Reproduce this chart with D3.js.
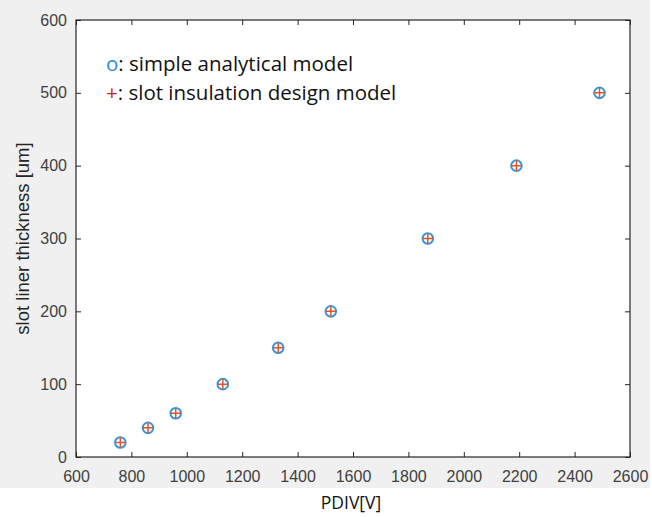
<!DOCTYPE html>
<html>
<head>
<meta charset="utf-8">
<script src="https://cdn.jsdelivr.net/npm/d3@7"></script>
<style>
  body { margin: 0; background: #fff; }
  svg { display: block; }
</style>
</head>
<body>
<script>
var width = 652;
var height = 517;

// data
var pdiv = [760, 860, 960, 1130, 1330, 1520, 1870, 2190, 2490];
var thickness = [20, 40, 60, 100, 150, 200, 300, 400, 500];
var xTicks = [600, 800, 1000, 1200, 1400, 1600, 1800, 2000, 2200, 2400, 2600];
var yTicks = [0, 100, 200, 300, 400, 500, 600];
var legendLines = [
  {sym: "o", symColor: "#2a8bd6", text: ": simple analytical model"},
  {sym: "+", symColor: "#d42020", text: ": slot insulation design model"}
];

var margin = {left: 76, top: 20, right: 630, bottom: 457};

var svg = d3.select("body").append("svg")
  .attr("width", width)
  .attr("height", height);

// matlab figure grey
svg.append("rect")
  .attr("x", 0).attr("y", 0)
  .attr("width", 650).attr("height", 488)
  .attr("fill", "#f0f0f0");

var x = d3.scaleLinear().domain([600, 2600]).range([margin.left, margin.right]);
var y = d3.scaleLinear().domain([0, 600]).range([margin.bottom, margin.top]);

svg.append("rect")
  .attr("x", margin.left).attr("y", margin.top)
  .attr("width", margin.right - margin.left)
  .attr("height", margin.bottom - margin.top)
  .attr("fill", "#fff");

var fmt = d3.format("d");

function styleAxis(g) {
  g.select(".domain").remove();
  g.selectAll(".tick line").attr("stroke", "#262626").attr("stroke-width", 1);
  g.selectAll(".tick text")
    .attr("fill", "#404040")
    .style("font-family", "'Liberation Sans', Arial, sans-serif")
    .style("font-size", "16px");
}

svg.append("g")
  .attr("transform", "translate(0," + margin.bottom + ")")
  .call(d3.axisBottom(x).tickValues(xTicks).tickFormat(fmt).tickSizeInner(-5).tickSizeOuter(0).tickPadding(14))
  .call(styleAxis);

svg.append("g")
  .attr("transform", "translate(" + margin.left + ",0)")
  .call(d3.axisLeft(y).tickValues(yTicks).tickFormat(fmt).tickSizeInner(-5).tickSizeOuter(0).tickPadding(9))
  .call(styleAxis);

svg.append("g")
  .attr("transform", "translate(0," + margin.top + ")")
  .call(d3.axisTop(x).tickValues(xTicks).tickSizeInner(-5).tickSizeOuter(0).tickFormat(""))
  .call(styleAxis);

svg.append("g")
  .attr("transform", "translate(" + margin.right + ",0)")
  .call(d3.axisRight(y).tickValues(yTicks).tickSizeInner(-5).tickSizeOuter(0).tickFormat(""))
  .call(styleAxis);

// box
svg.append("rect")
  .attr("x", margin.left).attr("y", margin.top)
  .attr("width", margin.right - margin.left)
  .attr("height", margin.bottom - margin.top)
  .attr("fill", "none")
  .attr("stroke", "#262626")
  .attr("stroke-width", 1.2);

// axis titles
svg.append("text")
  .attr("transform", "translate(29," + ((margin.top + margin.bottom) / 2) + ") rotate(-90)")
  .attr("text-anchor", "middle")
  .attr("fill", "#262626")
  .style("font-family", "'Liberation Sans', Arial, sans-serif")
  .style("font-size", "18.5px")
  .text("slot liner thickness [um]");

svg.append("text")
  .attr("x", 351).attr("y", 509)
  .attr("text-anchor", "middle")
  .attr("fill", "#111")
  .style("font-family", "'Open Sans', sans-serif")
  .style("font-size", "17.5px")
  .text("PDIV[V]");

// markers
var pts = pdiv.map(function(d, i){ return {x: d, y: thickness[i]}; });

svg.append("g").selectAll("circle")
  .data(pts)
  .enter()
  .append("circle")
  .attr("cx", function(d){ return x(d.x); })
  .attr("cy", function(d){ return y(d.y); })
  .attr("r", 5.3)
  .attr("fill", "none")
  .attr("stroke", "#3896dc")
  .attr("stroke-width", 2);

svg.append("g").selectAll("path")
  .data(pts)
  .enter()
  .append("path")
  .attr("d", function(d){
    var cx = x(d.x), cy = y(d.y), s = 5.3;
    return "M" + (cx - s) + "," + cy + "H" + (cx + s) + "M" + cx + "," + (cy - s) + "V" + (cy + s);
  })
  .attr("stroke", "#e2532a")
  .attr("stroke-width", 1.5);

// text legend
var leg = svg.append("g");
legendLines.forEach(function(l, i){
  var t = leg.append("text")
    .attr("x", 106).attr("y", 71 + i * 29)
    .attr("fill", "#111")
    .style("font-family", "'Open Sans', sans-serif")
    .style("font-size", "20.5px");
  t.append("tspan").attr("fill", l.symColor).text(l.sym);
  t.append("tspan").text(l.text);
});
</script>
</body>
</html>
